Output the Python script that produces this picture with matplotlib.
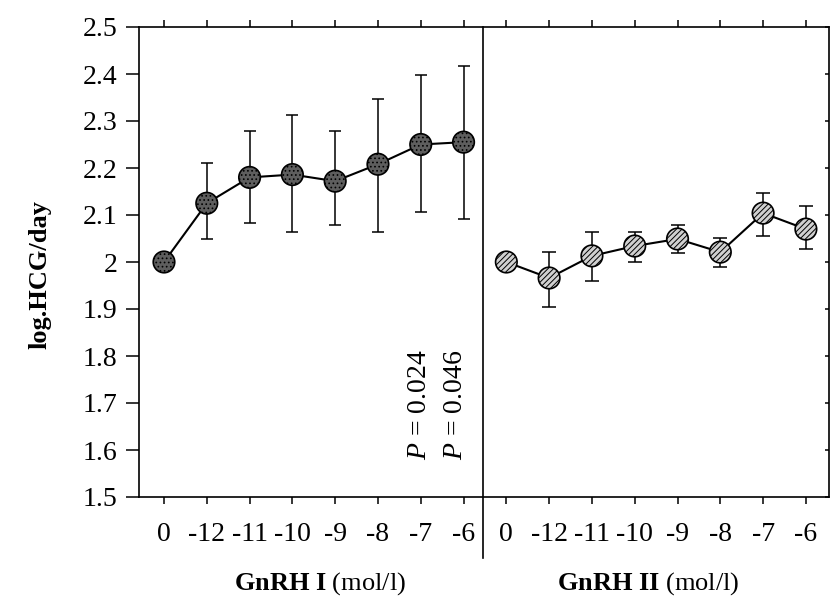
import numpy as np
import matplotlib
matplotlib.use("Agg")
import matplotlib.pyplot as plt
import matplotlib.transforms as mtransforms

plt.rcParams['font.family'] = ['Liberation Serif', 'DejaVu Serif']
plt.rcParams['mathtext.fontset'] = 'custom'
plt.rcParams['mathtext.rm'] = 'Liberation Serif'
plt.rcParams['mathtext.it'] = 'Liberation Serif:italic'
plt.rcParams['mathtext.bf'] = 'Liberation Serif:bold'
plt.rcParams['hatch.linewidth'] = 0.7

# ---- data ----
categories = ['0', '-12', '-11', '-10', '-9', '-8', '-7', '-6']
gnrh1_mean = [2.000, 2.125, 2.180, 2.186, 2.172, 2.208, 2.250, 2.255]
gnrh1_high = [np.nan, 2.210, 2.279, 2.313, 2.279, 2.347, 2.397, 2.417]
gnrh1_low = [np.nan, 2.050, 2.083, 2.063, 2.078, 2.063, 2.106, 2.091]
gnrh2_mean = [2.000, 1.966, 2.013, 2.034, 2.049, 2.021, 2.104, 2.070]
gnrh2_high = [np.nan, 2.021, 2.063, 2.063, 2.079, 2.051, 2.147, 2.119]
gnrh2_low = [np.nan, 1.904, 1.960, 2.000, 2.020, 1.990, 2.055, 2.028]
y_ticks = [1.5, 1.6, 1.7, 1.8, 1.9, 2.0, 2.1, 2.2, 2.3, 2.4, 2.5]
y_ticklabels = ['1.5', '1.6', '1.7', '1.8', '1.9', '2', '2.1', '2.2', '2.3', '2.4', '2.5']
p_texts = ['$P$ = 0.024', '$P$ = 0.046']
xlabels = [r'$\mathbf{GnRH\ I}$ (mol/l)', r'$\mathbf{GnRH\ II}$ (mol/l)']
ylabel = 'log.HCG/day'

W, H = 830, 600
fig = plt.figure(figsize=(W / 100, H / 100), dpi=100)
ax = fig.add_axes([139 / W, 1 - 497 / H, (829 - 139) / W, 470 / H])

n = len(categories)
x1 = np.arange(n)
x2 = np.arange(n) + n

def draw(x, mean, high, low, face, hatch, cap):
    mean = np.array(mean); high = np.array(high); low = np.array(low)
    yerr = np.vstack([mean - low, high - mean])
    ax.errorbar(x, mean, yerr=yerr, fmt='none', ecolor='black', elinewidth=1.1,
                capsize=cap, capthick=1.1, zorder=2)
    ax.plot(x, mean, color='black', lw=1.5, zorder=3)
    ax.scatter(x, mean, s=15.5 ** 2, facecolor=face, edgecolor='black',
               linewidths=1.2, hatch=hatch, zorder=4)

draw(x1, gnrh1_mean, gnrh1_high, gnrh1_low, '#5e5e5e', '....', 4.5)
draw(x2, gnrh2_mean, gnrh2_high, gnrh2_low, '#d0d0d0', '//////', 5)

ax.set_xlim(-0.584, 15.54)
ax.set_ylim(1.5, 2.5)
ax.set_yticks(y_ticks)
ax.set_yticklabels(y_ticklabels)
ax.set_xticks(np.concatenate([x1, x2]))
ax.set_xticklabels(categories + categories)

for sp in ax.spines.values():
    sp.set_linewidth(1.2)

ax.tick_params(axis='y', which='both', left=True, right=True, direction='out',
               length=9.5, width=1.1, labelsize=20, pad=6)
ax.tick_params(axis='x', which='both', bottom=True, top=True, direction='out',
               length=5, width=1.1, labelsize=20, pad=13)
# right spine inward ticks
for t in ax.yaxis.get_major_ticks():
    t.tick2line.set_marker(matplotlib.lines.TICKLEFT)
    t.tick2line.set_markersize(3)

# divider line
trans = mtransforms.blended_transform_factory(ax.transData, ax.transAxes)
div_x = 7.453
ax.plot([div_x, div_x], [1.0, -(558 - 497) / 470], color='black', lw=1.2,
        transform=trans, clip_on=False, zorder=5)

# P texts
ax.text(5.98, 1.579, p_texts[0], rotation=90, fontsize=20, ha='center', va='bottom')
ax.text(6.82, 1.579, p_texts[1], rotation=90, fontsize=20, ha='center', va='bottom')

# x labels
fig.text(320 / W, 1 - 584 / H, xlabels[0], fontsize=19, ha='center', va='center')
fig.text(648 / W, 1 - 584 / H, xlabels[1], fontsize=19, ha='center', va='center')

# y label
fig.text(40 / W, 1 - 275 / H, ylabel, fontsize=19, fontweight='bold',
         rotation=90, ha='center', va='center')

fig.savefig('out.png', dpi=100)
